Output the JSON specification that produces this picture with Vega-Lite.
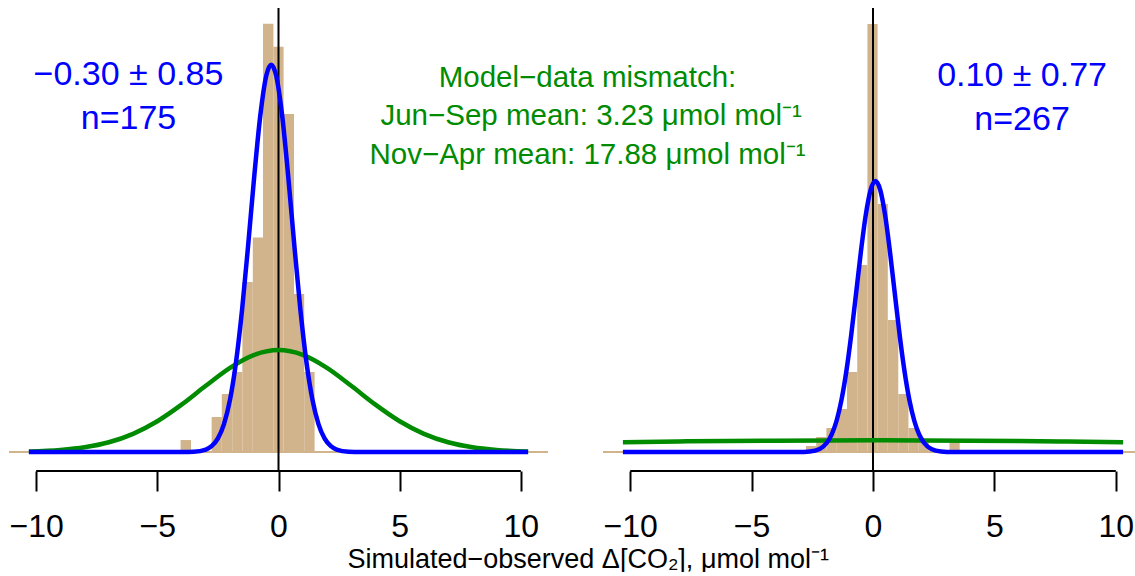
{
  "$schema": "https://vega.github.io/schema/vega-lite/v6.json",
  "padding": {"left": 8, "top": 7, "right": 0, "bottom": 0},
  "config": {"view": {"stroke": null}, "font": "Liberation Sans"},
  "resolve": {"scale": {"x": "independent", "y": "independent"}},
  "bounds": "flush",
  "spacing": 55,
  "datasets": {
    "one": [{"k": 1}],
    "histL": [
      {"x0": -4.04, "x1": -3.61, "d": 0.0145},
      {"x0": -2.76, "x1": -2.34, "d": 0.0424},
      {"x0": -2.34, "x1": -1.91, "d": 0.0703},
      {"x0": -1.91, "x1": -1.49, "d": 0.097},
      {"x0": -1.49, "x1": -1.06, "d": 0.2061},
      {"x0": -1.06, "x1": -0.64, "d": 0.26},
      {"x0": -0.64, "x1": -0.21, "d": 0.5188},
      {"x0": -0.21, "x1": 0.21, "d": 0.4909},
      {"x0": 0.21, "x1": 0.64, "d": 0.4097},
      {"x0": 0.64, "x1": 1.06, "d": 0.1915},
      {"x0": 1.06, "x1": 1.49, "d": 0.097}
    ],
    "histR": [
      {"x0": -2.76, "x1": -2.34, "d": 0.0115},
      {"x0": -2.34, "x1": -1.92, "d": 0.0287},
      {"x0": -1.92, "x1": -1.49, "d": 0.0459},
      {"x0": -1.49, "x1": -1.07, "d": 0.0822},
      {"x0": -1.07, "x1": -0.65, "d": 0.153},
      {"x0": -0.65, "x1": -0.23, "d": 0.3576},
      {"x0": -0.23, "x1": 0.19, "d": 0.8184},
      {"x0": 0.19, "x1": 0.61, "d": 0.4742},
      {"x0": 0.61, "x1": 1.04, "d": 0.2524},
      {"x0": 1.04, "x1": 1.46, "d": 0.1109},
      {"x0": 1.46, "x1": 1.88, "d": 0.0459},
      {"x0": 1.88, "x1": 2.3, "d": 0.019},
      {"x0": 3.15, "x1": 3.57, "d": 0.0182}
    ],
    "blueL": [
      {"x": -10.3, "y": 0}, {"x": -5, "y": 0}, {"x": -4, "y": 0.00004}, {"x": -3.5, "y": 0.00039},
      {"x": -3.0, "y": 0.00303}, {"x": -2.75, "y": 0.00737}, {"x": -2.5, "y": 0.01646}, {"x": -2.25, "y": 0.0338},
      {"x": -2.0, "y": 0.0635}, {"x": -1.75, "y": 0.1095}, {"x": -1.5, "y": 0.1733}, {"x": -1.25, "y": 0.2513},
      {"x": -1.0, "y": 0.3344}, {"x": -0.75, "y": 0.4079}, {"x": -0.5, "y": 0.4565}, {"x": -0.3, "y": 0.4693},
      {"x": -0.1, "y": 0.4565}, {"x": 0.15, "y": 0.4079}, {"x": 0.4, "y": 0.3344}, {"x": 0.65, "y": 0.2513},
      {"x": 0.9, "y": 0.1733}, {"x": 1.15, "y": 0.1095}, {"x": 1.4, "y": 0.0635}, {"x": 1.65, "y": 0.0338},
      {"x": 1.9, "y": 0.01646}, {"x": 2.15, "y": 0.00737}, {"x": 2.4, "y": 0.00303}, {"x": 2.9, "y": 0.00039},
      {"x": 3.4, "y": 0.00004}, {"x": 4.4, "y": 0}, {"x": 10.3, "y": 0}
    ],
    "greenL": [
      {"x": -10.3, "y": 0.00076}, {"x": -9, "y": 0.00255}, {"x": -8, "y": 0.00575}, {"x": -7, "y": 0.0118},
      {"x": -6, "y": 0.02201}, {"x": -5, "y": 0.03727}, {"x": -4, "y": 0.05737}, {"x": -3, "y": 0.08024},
      {"x": -2, "y": 0.102}, {"x": -1, "y": 0.1177}, {"x": 0, "y": 0.1235}, {"x": 1, "y": 0.1177},
      {"x": 2, "y": 0.102}, {"x": 3, "y": 0.08024}, {"x": 4, "y": 0.05737}, {"x": 5, "y": 0.03727},
      {"x": 6, "y": 0.02201}, {"x": 7, "y": 0.0118}, {"x": 8, "y": 0.00575}, {"x": 9, "y": 0.00255},
      {"x": 10.3, "y": 0.00076}
    ],
    "blueR": [
      {"x": -10.3, "y": 0}, {"x": -3.9, "y": 0}, {"x": -3.1, "y": 0.00009}, {"x": -2.6, "y": 0.00111},
      {"x": -2.2, "y": 0.00598}, {"x": -1.9, "y": 0.01777}, {"x": -1.7, "y": 0.0337}, {"x": -1.5, "y": 0.0598},
      {"x": -1.3, "y": 0.0992}, {"x": -1.1, "y": 0.1538}, {"x": -0.9, "y": 0.2229}, {"x": -0.7, "y": 0.302},
      {"x": -0.5, "y": 0.3825}, {"x": -0.3, "y": 0.4527}, {"x": -0.1, "y": 0.5009}, {"x": 0.1, "y": 0.5181},
      {"x": 0.3, "y": 0.5009}, {"x": 0.5, "y": 0.4527}, {"x": 0.7, "y": 0.3825}, {"x": 0.9, "y": 0.302},
      {"x": 1.1, "y": 0.2229}, {"x": 1.3, "y": 0.1538}, {"x": 1.5, "y": 0.0992}, {"x": 1.7, "y": 0.0598},
      {"x": 1.9, "y": 0.0337}, {"x": 2.1, "y": 0.01777}, {"x": 2.4, "y": 0.00598}, {"x": 2.8, "y": 0.00111},
      {"x": 3.3, "y": 0.00009}, {"x": 4.1, "y": 0}, {"x": 10.3, "y": 0}
    ],
    "greenR": [
      {"x": -10.3, "y": 0.0189}, {"x": -8, "y": 0.02019}, {"x": -6, "y": 0.02109}, {"x": -4, "y": 0.02176},
      {"x": -2, "y": 0.02217}, {"x": 0, "y": 0.02231}, {"x": 2, "y": 0.02217}, {"x": 4, "y": 0.02176},
      {"x": 6, "y": 0.02109}, {"x": 8, "y": 0.02019}, {"x": 10.3, "y": 0.0189}
    ],
    "textL": [
      {"x": -6.19, "y": 0.4442, "t": "−0.30 ± 0.85"},
      {"x": -6.19, "y": 0.3909, "t": "n=175"}
    ],
    "textG": [
      {"x": 12.75, "y": 0.4428, "t": "Model−data mismatch:"},
      {"x": 12.9, "y": 0.3964, "t": "Jun−Sep mean: 3.23 μmol mol⁻¹"},
      {"x": 12.75, "y": 0.3495, "t": "Nov−Apr mean: 17.88 μmol mol⁻¹"}
    ],
    "textR": [
      {"x": 6.14, "y": 0.7008, "t": "0.10 ± 0.77"},
      {"x": 6.14, "y": 0.6166, "t": "n=267"}
    ]
  },
  "hconcat": [
    {
      "width": 539,
      "height": 463,
      "layer": [
        {
          "data": {"name": "histL"},
          "mark": {"type": "rect", "color": "#D2B48C"},
          "encoding": {
            "x": {"field": "x0", "type": "quantitative",
              "scale": {"domain": [-11.12, 11.12], "nice": false, "zero": false},
              "axis": {"values": [-10, -5, 0, 5, 10], "domain": false, "grid": false, "tickSize": 20, "tickWidth": 2,
                "tickColor": "black", "labelFontSize": 32, "labelFont": "Liberation Sans", "labelColor": "black",
                "labelPadding": 20, "labelFlush": false, "labelOverlap": false, "format": "d",
                "title": "Simulated−observed Δ[CO₂], μmol mol⁻¹", "titleFont": "Liberation Sans", "titleFontSize": 27,
                "titleFontWeight": "normal", "titleColor": "black", "titleX": 578.7, "titleY": 96,
                "titleAlign": "center", "titleBaseline": "alphabetic"}},
            "x2": {"field": "x1"},
            "y": {"field": "d", "type": "quantitative",
              "scale": {"domain": [-0.023, 0.538], "nice": false, "zero": false}, "axis": null},
            "y2": {"datum": 0}
          }
        },
        {
          "data": {"name": "one"},
          "mark": {"type": "rule", "color": "#D2B48C", "strokeWidth": 2},
          "encoding": {"y": {"datum": 0}}
        },
        {
          "data": {"name": "one"},
          "mark": {"type": "rule", "color": "black", "strokeWidth": 2},
          "encoding": {"x": {"datum": 0}}
        },
        {
          "data": {"name": "one"},
          "mark": {"type": "rule", "color": "black", "strokeWidth": 2},
          "encoding": {"x": {"datum": -10}, "x2": {"datum": 10}, "y": {"datum": -0.023}}
        },
        {
          "data": {"name": "greenL"},
          "mark": {"type": "line", "color": "#008B00", "strokeWidth": 4.5, "interpolate": "monotone"},
          "encoding": {"x": {"field": "x", "type": "quantitative"}, "y": {"field": "y", "type": "quantitative"}}
        },
        {
          "data": {"name": "blueL"},
          "mark": {"type": "line", "color": "#0000FF", "strokeWidth": 4.5, "interpolate": "monotone"},
          "encoding": {"x": {"field": "x", "type": "quantitative"}, "y": {"field": "y", "type": "quantitative"}}
        },
        {
          "data": {"name": "textL"},
          "mark": {"type": "text", "color": "#0000FF", "fontSize": 34, "align": "center", "baseline": "alphabetic"},
          "encoding": {"x": {"field": "x", "type": "quantitative"}, "y": {"field": "y", "type": "quantitative"}, "text": {"field": "t"}}
        },
        {
          "data": {"name": "textG"},
          "mark": {"type": "text", "color": "#008B00", "fontSize": 29.5, "align": "center", "baseline": "alphabetic"},
          "encoding": {"x": {"field": "x", "type": "quantitative"}, "y": {"field": "y", "type": "quantitative"}, "text": {"field": "t"}}
        }
      ]
    },
    {
      "width": 540,
      "height": 463,
      "layer": [
        {
          "data": {"name": "histR"},
          "mark": {"type": "rect", "color": "#D2B48C"},
          "encoding": {
            "x": {"field": "x0", "type": "quantitative",
              "scale": {"domain": [-11.12, 11.12], "nice": false, "zero": false},
              "axis": {"values": [-10, -5, 0, 5, 10], "domain": false, "grid": false, "tickSize": 20, "tickWidth": 2,
                "tickColor": "black", "labelFontSize": 32, "labelFont": "Liberation Sans", "labelColor": "black",
                "labelPadding": 20, "labelFlush": false, "labelOverlap": false, "format": "d", "title": null}},
            "x2": {"field": "x1"},
            "y": {"field": "d", "type": "quantitative",
              "scale": {"domain": [-0.0363, 0.849], "nice": false, "zero": false}, "axis": null},
            "y2": {"datum": 0}
          }
        },
        {
          "data": {"name": "one"},
          "mark": {"type": "rule", "color": "#D2B48C", "strokeWidth": 2},
          "encoding": {"y": {"datum": 0}}
        },
        {
          "data": {"name": "one"},
          "mark": {"type": "rule", "color": "black", "strokeWidth": 2},
          "encoding": {"x": {"datum": 0}}
        },
        {
          "data": {"name": "one"},
          "mark": {"type": "rule", "color": "black", "strokeWidth": 2},
          "encoding": {"x": {"datum": -10}, "x2": {"datum": 10}, "y": {"datum": -0.0363}}
        },
        {
          "data": {"name": "greenR"},
          "mark": {"type": "line", "color": "#008B00", "strokeWidth": 4.5, "interpolate": "monotone"},
          "encoding": {"x": {"field": "x", "type": "quantitative"}, "y": {"field": "y", "type": "quantitative"}}
        },
        {
          "data": {"name": "blueR"},
          "mark": {"type": "line", "color": "#0000FF", "strokeWidth": 4.5, "interpolate": "monotone"},
          "encoding": {"x": {"field": "x", "type": "quantitative"}, "y": {"field": "y", "type": "quantitative"}}
        },
        {
          "data": {"name": "textR"},
          "mark": {"type": "text", "color": "#0000FF", "fontSize": 34, "align": "center", "baseline": "alphabetic"},
          "encoding": {"x": {"field": "x", "type": "quantitative"}, "y": {"field": "y", "type": "quantitative"}, "text": {"field": "t"}}
        }
      ]
    }
  ]
}
